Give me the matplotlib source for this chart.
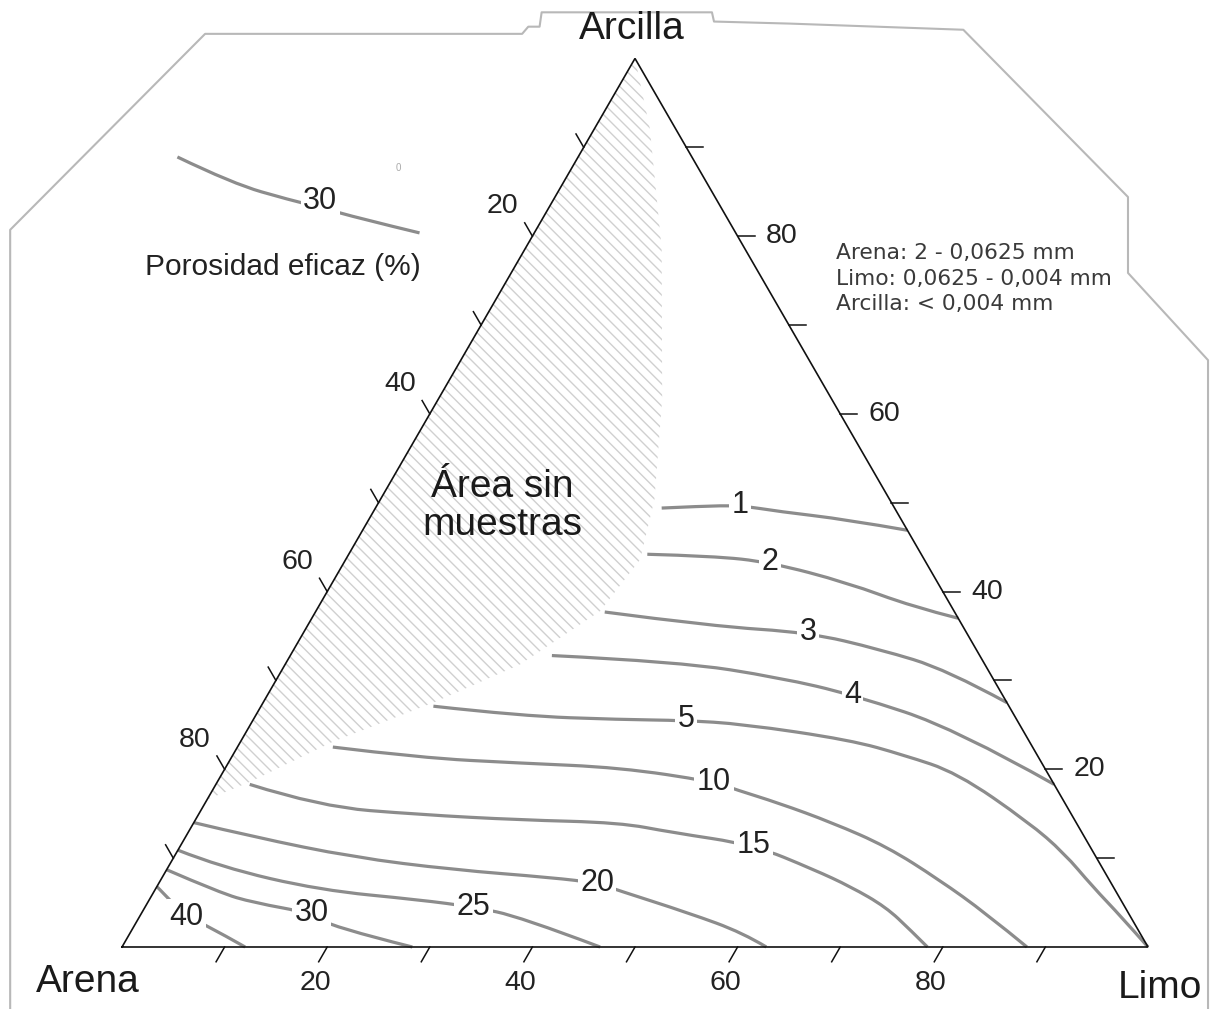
import numpy as np
import matplotlib.pyplot as plt
from matplotlib.path import Path
from matplotlib.patches import PathPatch, Polygon

plt.rcParams["font.family"] = ["Liberation Sans", "DejaVu Sans"]
plt.rcParams["hatch.linewidth"] = 1.0

# Isolines of effective porosity (%), given as (limo %, arcilla %) points
LEVELS = [1, 2, 3, 4, 5, 10, 15, 20, 25, 30, 40]
CONTOUR_LIMO = [
    [27.9, 31.5, 35.4, 39.6, 46.6, 53.1],
    [29.1, 35.6, 41.5, 50.2, 57.9, 63.0],
    [28.2, 39.5, 49.2, 57.1, 64.8, 72.5],
    [25.5, 38.3, 49.0, 57.0, 69.1, 81.7],
    [16.8, 25.9, 35.7, 42.1, 47.9, 59.3, 65.4, 71.6, 81.4, 86.5, 91.2, 95.7, 100.0],
    [9.3, 18.4, 28.4, 38.4, 48.4, 51.0, 55.9, 62.2, 68.9, 75.8, 82.3, 88.2],
    [3.3, 11.4, 21.6, 31.6, 41.5, 47.1, 55.8, 63.1, 67.6, 72.2, 75.9, 78.5],
    [0.0, 6.6, 17.5, 27.9, 38.1, 42.7, 45.1, 53.4, 59.7, 62.8],
    [0.0, 5.1, 16.1, 26.4, 32.0, 37.1, 46.6],
    [0.0, 6.5, 10.3, 16.6, 19.2, 28.3],
    [0.0, 2.8, 4.6, 6.5, 12.0],
]
CONTOUR_ARCILLA = [
    [49.4, 49.6, 49.7, 49.0, 48.1, 46.9],
    [44.2, 44.0, 43.3, 41.0, 38.3, 37.0],
    [37.7, 36.1, 35.4, 33.5, 31.2, 27.5],
    [32.8, 32.1, 30.3, 28.4, 24.5, 18.3],
    [27.1, 26.0, 25.6, 25.5, 25.1, 23.3, 21.6, 19.6, 14.0, 10.6, 6.8, 3.4, 0.0],
    [22.5, 21.3, 20.7, 20.2, 18.6, 17.7, 16.2, 14.0, 11.3, 7.6, 3.8, 0.0],
    [18.3, 15.8, 14.9, 14.3, 14.0, 12.9, 11.5, 8.7, 6.8, 4.5, 1.9, 0.0],
    [14.0, 12.4, 10.1, 8.7, 7.8, 7.2, 6.4, 3.8, 1.6, 0.0],
    [10.9, 9.0, 6.4, 5.3, 4.5, 3.4, 0.0],
    [8.7, 6.1, 5.0, 3.8, 2.3, 0.0],
    [6.8, 4.7, 3.4, 2.7, 0.0],
]
LABEL_LIMO = [35.4, 41.5, 49.2, 57.0, 42.1, 48.4, 55.8, 42.7, 32.0, 16.6, 4.6]
LABEL_ARCILLA = [49.7, 43.3, 35.4, 28.4, 25.7, 18.6, 11.5, 7.2, 4.5, 3.8, 3.4]

# Zone without samples (hatched)
HATCH_LIMO = [0.0, 5.4, 13.3, 21.8, 26.7, 28.7, 27.7, 22.9, 16.6, 9.0, 3.2, 0.0]
HATCH_ARCILLA = [100.0, 92.1, 78.6, 61.7, 50.4, 43.6, 37.8, 31.8, 27.5, 23.1, 18.6, 16.6]

TICKS = [10, 20, 30, 40, 50, 60, 70, 80, 90]
TICK_LABELS = [20, 40, 60, 80]

# Legend sample line (plain x, y units of the diagram)
LEGEND_X = [5.4, 10.8, 16.4, 19.3, 23.2, 29.0]
LEGEND_Y = [77.0, 74.4, 72.8, 72.1, 71.0, 69.6]

# Light frame around the drawing
FRAME_X = [-10.9, -10.9, 8.1, 39.0, 39.6, 40.7, 40.9, 57.5, 57.7, 65.1, 82.0,
           98.05, 98.05, 105.85, 105.85]
FRAME_Y = [-6.1, 69.9, 89.0, 89.0, 89.7, 89.7, 91.1, 91.1, 90.2, 90.0, 89.4,
           73.1, 65.7, 57.2, -6.1]

SQ3 = np.sqrt(3) / 2
LINE_GREY = "#8c8c8c"
TEXT = "#222222"


def tern(limo, arcilla):
    limo = np.asarray(limo, float)
    arcilla = np.asarray(arcilla, float)
    return limo + arcilla / 2, arcilla * SQ3


def smooth_path(xs, ys):
    # quadratic B-spline through the control points, ends pinned
    pts = np.column_stack([xs, ys])
    n = len(pts)
    if n < 3:
        return Path(pts)
    verts = [pts[0]]
    codes = [Path.MOVETO]
    for i in range(1, n - 2):
        verts += [pts[i], (pts[i] + pts[i + 1]) / 2]
        codes += [Path.CURVE3, Path.CURVE3]
    verts += [pts[n - 2], pts[n - 1]]
    codes += [Path.CURVE3, Path.CURVE3]
    return Path(verts, codes)


fig = plt.figure(figsize=(12.1, 10.09), dpi=100)
ax = fig.add_axes([0, 0, 1, 1])
ax.set_xlim(-11.891, 106.043)
ax.set_ylim(-6.043, 92.300)
ax.axis("off")

ax.plot(FRAME_X, FRAME_Y, color="#b8b8b8", lw=1.5, zorder=0)

hx, hy = tern(HATCH_LIMO, HATCH_ARCILLA)
ax.add_patch(Polygon(np.column_stack([hx, hy]), closed=True, facecolor="none",
                     edgecolor="#d0d0d0", lw=0, hatch="\\\\\\", zorder=1))

# triangle
tx, ty = tern([0, 100, 0, 0], [0, 0, 100, 0])
ax.plot(tx, ty, color="#111111", lw=1.2, zorder=3, solid_joinstyle="miter")

# ticks
for k in TICKS:
    x0, y0 = tern(k, 0)
    ax.plot([x0, x0 - 0.83], [y0, y0 - 1.44], color="#111111", lw=1.1)
    x0, y0 = tern(0, 100 - k)
    ax.plot([x0, x0 - 0.75], [y0, y0 + 1.3], color="#111111", lw=1.1)
    x0, y0 = tern(100 - k, k)
    ax.plot([x0, x0 + 1.65], [y0, y0], color="#111111", lw=1.1)

for k in TICK_LABELS:
    x0, y0 = tern(k, 0)
    ax.text(x0 - 1.15, y0 - 3.55, str(k), ha="center", va="center", fontsize=20.5, color=TEXT)
    x0, y0 = tern(0, 100 - k)
    ax.text(x0 - 2.9, y0 + 2.9, str(k), ha="center", va="center", fontsize=20.5, color=TEXT)
    x0, y0 = tern(100 - k, k)
    ax.text(x0 + 4.3, y0, str(k), ha="center", va="center", fontsize=20.5, color=TEXT)

# isolines
for level, lm, ar, lx, ly in zip(LEVELS, CONTOUR_LIMO, CONTOUR_ARCILLA, LABEL_LIMO, LABEL_ARCILLA):
    cx, cy = tern(lm, ar)
    ax.add_patch(PathPatch(smooth_path(cx, cy), fill=False, edgecolor=LINE_GREY,
                           lw=2.3, capstyle="butt", zorder=2))
    px, py = tern(lx, ly)
    ax.text(px, py, str(level), ha="center", va="center", fontsize=22, color=TEXT,
            zorder=4, bbox=dict(boxstyle="square,pad=0.08", fc="white", ec="none"))

# legend
ax.add_patch(PathPatch(smooth_path(LEGEND_X, LEGEND_Y), fill=False, edgecolor=LINE_GREY,
                       lw=2.3, capstyle="butt", zorder=2))
ax.text(19.3, 72.7, "30", ha="center", va="center", fontsize=22, color=TEXT, zorder=4,
        bbox=dict(boxstyle="square,pad=0.08", fc="white", ec="none"))
ax.text(15.7, 66.3, "Porosidad eficaz (%)", ha="center", va="center", fontsize=21.5, color=TEXT)
ax.text(26.9, 75.9, "0", ha="center", va="center", fontsize=7, color="#aaaaaa")

# vertices
ax.text(49.7, 89.5, "Arcilla", ha="center", va="center", fontsize=28, color="#1a1a1a")
ax.text(-3.3, -3.4, "Arena", ha="center", va="center", fontsize=28, color="#1a1a1a")
ax.text(101.2, -4.0, "Limo", ha="center", va="center", fontsize=28, color="#1a1a1a")

ax.text(37.1, 43.0, "Área sin\nmuestras", ha="center", va="center", fontsize=28,
        color="#1a1a1a", linespacing=1.05, zorder=4)

info = ["Arena: 2 - 0,0625 mm", "Limo: 0,0625 - 0,004 mm", "Arcilla: < 0,004 mm"]
for i, line in enumerate(info):
    ax.text(69.6, 67.6 - 2.45 * i, line, ha="left", va="center", fontsize=15.7,
            family="DejaVu Sans", color="#3a3a3a")

fig.savefig("out.png", dpi=100, facecolor="white")
